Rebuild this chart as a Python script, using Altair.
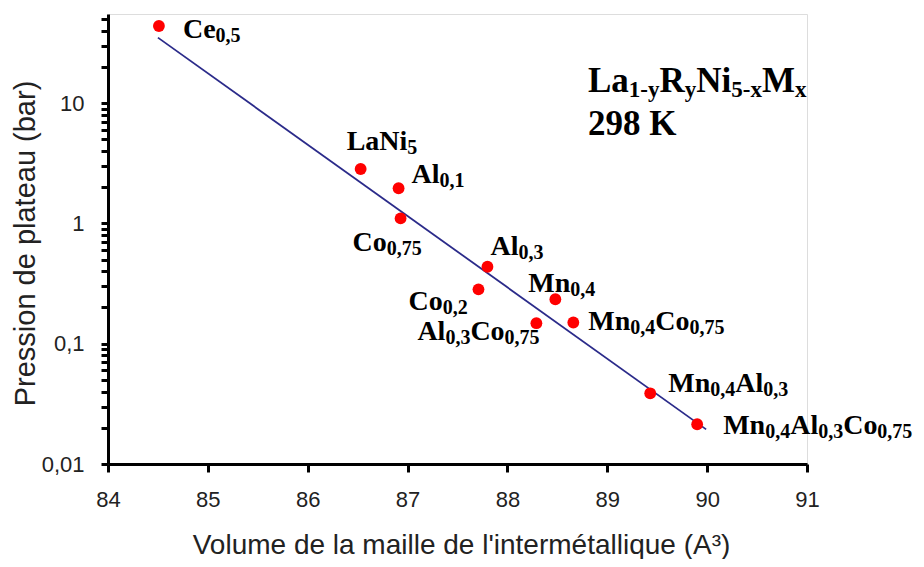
import re
import altair as alt
import pandas as pd

# ---------------- data ----------------
names = ["Ce0,5", "LaNi5", "Al0,1", "Co0,75", "Al0,3", "Co0,2", "Al0,3Co0,75",
         "Mn0,4", "Mn0,4Co0,75", "Mn0,4Al0,3", "Mn0,4Al0,3Co0,75"]
volume = [84.51, 86.53, 86.91, 86.93, 87.80, 87.71, 88.29, 88.48, 88.66, 89.43, 89.90]
pressure = [43.7, 2.83, 1.96, 1.10, 0.436, 0.283, 0.148, 0.234, 0.150, 0.0387, 0.0214]

fit_volume = [84.50, 89.99]
fit_pressure = [35.0, 0.0194]

x_ticks = [84, 85, 86, 87, 88, 89, 90, 91]
y_ticks = [0.01, 0.02, 0.03, 0.04, 0.05, 0.06, 0.07, 0.08, 0.09,
           0.1, 0.2, 0.3, 0.4, 0.5, 0.6, 0.7, 0.8, 0.9,
           1, 2, 3, 4, 5, 6, 7, 8, 9,
           10, 20, 30, 40, 50]

title_segments = [("La", 0), ("1-y", 1), ("R", 0), ("y", 1), ("Ni", 0), ("5-x", 1), ("M", 0), ("x", 1)]
title_line2 = "298 K"

x_title = "Volume de la maille de l'intermétallique (A³)"
y_title = "Pression de plateau (bar)"

# ---------------- styles ----------------
label_offsets = {
    "Ce0,5": (24, 12), "LaNi5": (-14, -19), "Al0,1": (13, -5), "Co0,75": (-48, 33),
    "Al0,3": (3, -12), "Co0,2": (-70, 21), "Al0,3Co0,75": (-119, 17), "Mn0,4": (-27, -7),
    "Mn0,4Co0,75": (15, 7), "Mn0,4Al0,3": (18, -1), "Mn0,4Al0,3Co0,75": (26, 10),
}
SERIF = "Liberation Serif"
SANS = "Liberation Sans"
MAIN_FS, SUB_FS, SUB_SHIFT = 28, 20, 4
T_MAIN_FS, T_SUB_FS, T_SUB_SHIFT = 35, 23, 5

WIDTHS = {'C': 722, 'e': 444, 'L': 667, 'a': 500, 'N': 722, 'i': 278, 'A': 722, 'l': 278,
          'o': 500, 'M': 944, 'n': 556, 'R': 722, 'K': 778, 'y': 500, 'x': 500, '-': 333,
          ',': 250, ' ': 250}


def text_width(s, fs):
    return sum(WIDTHS.get(c, 500) for c in s) * fs / 1000.0


def split_label(name):
    segs = []
    for main, sub in re.findall(r"([A-Za-z]+)([0-9,]*)", name):
        segs.append((main, 0))
        if sub:
            segs.append((sub, 1))
    return segs


df = pd.DataFrame({"volume": volume, "pressure": pressure, "name": names})
df_fit = pd.DataFrame({"volume": fit_volume, "pressure": fit_pressure})

label_expr = ("+datum.value === 0.01 ? '0,01' : +datum.value === 0.1 ? '0,1' : "
              "+datum.value === 1 ? '1' : +datum.value === 10 ? '10' : ''")

x_enc = alt.X("volume:Q",
              scale=alt.Scale(domain=[84, 91], nice=False, zero=False),
              axis=alt.Axis(values=x_ticks, format="d", title=x_title, grid=False, labelFlush=False,
                            tickSize=8, tickWidth=3, tickColor="black",
                            domainColor="black", domainWidth=3,
                            labelFont=SANS, labelFontSize=22, labelColor="#222",
                            labelPadding=17,
                            titleFont=SANS, titleFontSize=28, titleFontWeight="normal",
                            titleColor="#222", titleX=353, titleY=89,
                            titleBaseline="alphabetic"))
y_enc = alt.Y("pressure:Q",
              scale=alt.Scale(type="log", domain=[0.01, 55], nice=False),
              axis=alt.Axis(values=y_ticks, labelExpr=label_expr, title=y_title, grid=False,
                            labelFlush=False, labelOverlap=False,
                            tickSize=7, tickWidth=3, tickColor="black",
                            domainColor="black", domainWidth=3,
                            labelFont=SANS, labelFontSize=22, labelColor="#222",
                            labelPadding=17,
                            titleFont=SANS, titleFontSize=29, titleFontWeight="normal",
                            titleColor="#222", titleX=-74, titleY=229, titleAngle=-90,
                            titleBaseline="alphabetic"))

line = alt.Chart(df_fit).mark_line(color="#2b2b8a", strokeWidth=1.8).encode(x=x_enc, y=y_enc)
points = alt.Chart(df).mark_circle(size=140, color="#ff0000", opacity=1).encode(
    x="volume:Q", y="pressure:Q")

layers = [line, points]

# point labels built from main + subscript runs
for name, vx, py in zip(names, volume, pressure):
    dx0, dy0 = label_offsets[name]
    row = pd.DataFrame({"volume": [vx], "pressure": [py]})
    cur = dx0
    for seg, is_sub in split_label(name):
        fs = SUB_FS if is_sub else MAIN_FS
        layers.append(
            alt.Chart(row).mark_text(
                align="left", baseline="alphabetic", font=SERIF, fontWeight="bold",
                fontSize=fs, color="black", dx=cur, dy=dy0 + (SUB_SHIFT if is_sub else 0)
            ).encode(x="volume:Q", y="pressure:Q", text=alt.value(seg))
        )
        cur += text_width(seg, fs)

# title block
one = pd.DataFrame({"a": [0]})
cur = 0
for seg, is_sub in title_segments:
    fs = T_SUB_FS if is_sub else T_MAIN_FS
    layers.append(
        alt.Chart(one).mark_text(
            align="left", baseline="alphabetic", font=SERIF, fontWeight="bold",
            fontSize=fs, color="black", dx=cur, dy=(T_SUB_SHIFT if is_sub else 0)
        ).encode(x=alt.value(480), y=alt.value(78), text=alt.value(seg))
    )
    cur += text_width(seg, fs)
layers.append(
    alt.Chart(one).mark_text(
        align="left", baseline="alphabetic", font=SERIF, fontWeight="bold",
        fontSize=T_MAIN_FS, color="black"
    ).encode(x=alt.value(480), y=alt.value(121), text=alt.value(title_line2))
)

chart = alt.layer(*layers).properties(
    width=699, height=450,
    padding={"left": 100, "top": 6, "right": 108, "bottom": 95},
    autosize=alt.AutoSizeParams(type="none"),
).configure_view(stroke=None).configure(background="white")

chart.save("out.html", embed_options={"renderer": "svg", "actions": False})
